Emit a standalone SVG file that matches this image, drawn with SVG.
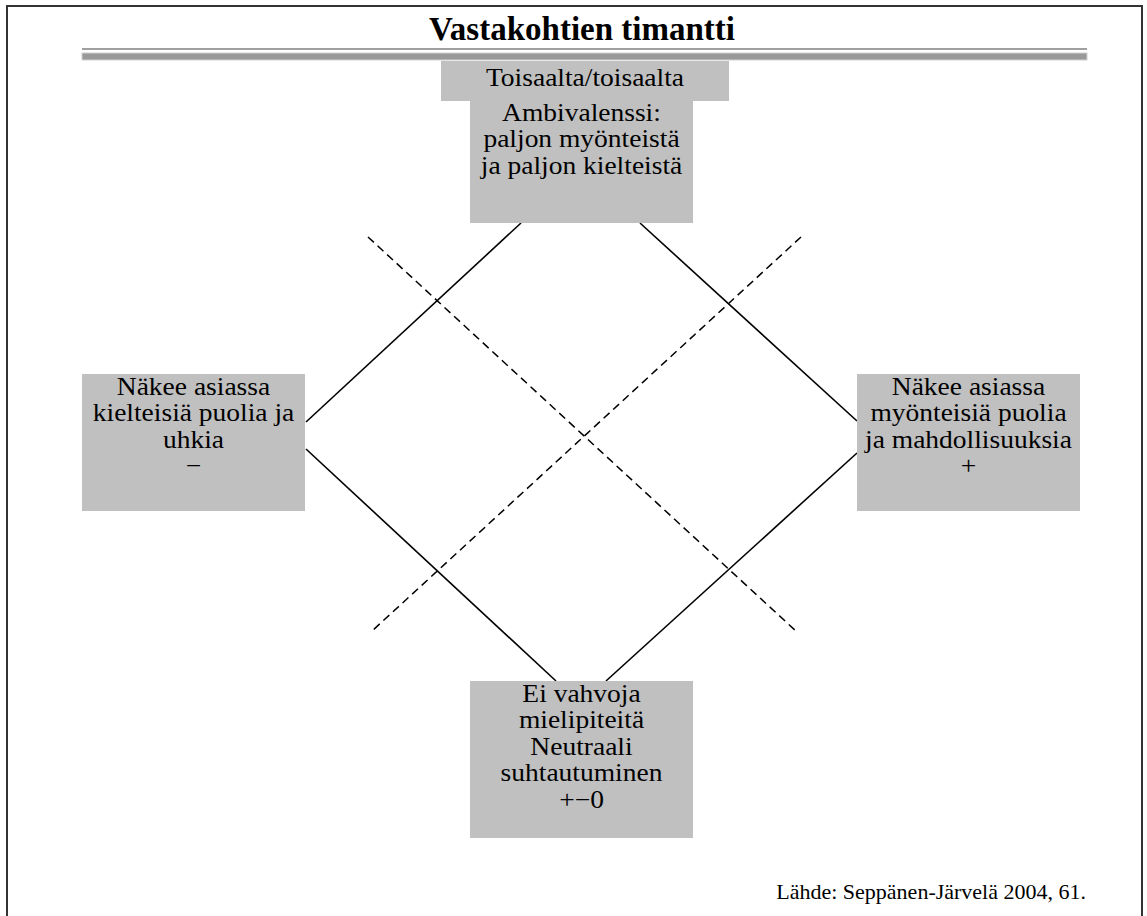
<svg xmlns="http://www.w3.org/2000/svg" width="1147" height="916" viewBox="0 0 1147 916">
<style>
.box{fill:#c0c0c0;}
.t{font-family:"Liberation Serif","Times New Roman",serif;font-size:25px;fill:#000;text-anchor:middle;}
.solid{stroke:#000;stroke-width:1.6;fill:none;}
.dash{stroke:#000;stroke-width:1.5;fill:none;stroke-dasharray:8 5;}
</style>
<rect width="1147" height="916" fill="#fff"/>
<path d="M7,920 V6 H1142 V920" fill="none" stroke="#333" stroke-width="2"/>
<g id="title">
<text x="582" y="40" class="t" style="font-weight:bold;font-size:33px">Vastakohtien timantti</text>
<rect x="82" y="48" width="1005" height="2" fill="#a0a0a0"/>
<rect x="82" y="53" width="1005" height="7" fill="#999" stroke="#d0d0d0" stroke-width="1"/>
</g>
<g id="connectors">
<line class="solid" x1="521" y1="223" x2="306" y2="422"/>
<line class="solid" x1="640" y1="223" x2="857" y2="421"/>
<line class="solid" x1="306" y1="449" x2="556" y2="681"/>
<line class="solid" x1="857" y1="453" x2="606" y2="681"/>
<line class="dash" x1="368" y1="237" x2="797" y2="632"/>
<line class="dash" x1="801" y1="237" x2="372" y2="631"/>
</g>
<g id="node-top-label">
<rect class="box" x="441" y="61" width="288" height="40"/>
<g transform="translate(585 0) scale(1.1 1)">
<text class="t" x="0" y="86">Toisaalta/toisaalta</text>
</g>
</g>
<g id="node-top">
<rect class="box" x="470" y="101" width="223" height="122"/>
<g transform="translate(581.5 0) scale(1.1 1)">
<text class="t" x="0" y="121">Ambivalenssi:</text>
<text class="t" x="0" y="147.5">paljon myönteistä</text>
<text class="t" x="0" y="174">ja paljon kielteistä</text>
</g>
</g>
<g id="node-left">
<rect class="box" x="82" y="374" width="223" height="137"/>
<g transform="translate(193.5 0) scale(1.1 1)">
<text class="t" x="0" y="395">Näkee asiassa</text>
<text class="t" x="0" y="421.5">kielteisiä puolia ja</text>
<text class="t" x="0" y="448">uhkia</text>
<text class="t" x="0" y="474.5">−</text>
</g>
</g>
<g id="node-right">
<rect class="box" x="857" y="374" width="223" height="137"/>
<g transform="translate(968.5 0) scale(1.1 1)">
<text class="t" x="0" y="395">Näkee asiassa</text>
<text class="t" x="0" y="421.5">myönteisiä puolia</text>
<text class="t" x="0" y="448">ja mahdollisuuksia</text>
<text class="t" x="0" y="474.5">+</text>
</g>
</g>
<g id="node-bottom">
<rect class="box" x="470" y="681" width="223" height="157"/>
<g transform="translate(581.5 0) scale(1.1 1)">
<text class="t" x="0" y="702">Ei vahvoja</text>
<text class="t" x="0" y="728.5">mielipiteitä</text>
<text class="t" x="0" y="755">Neutraali</text>
<text class="t" x="0" y="781.5">suhtautuminen</text>
<text class="t" x="0" y="808">+−0</text>
</g>
</g>
<text class="t" x="1086" y="899" style="text-anchor:end;font-size:22px">Lähde: Seppänen-Järvelä 2004, 61.</text>
</svg>
